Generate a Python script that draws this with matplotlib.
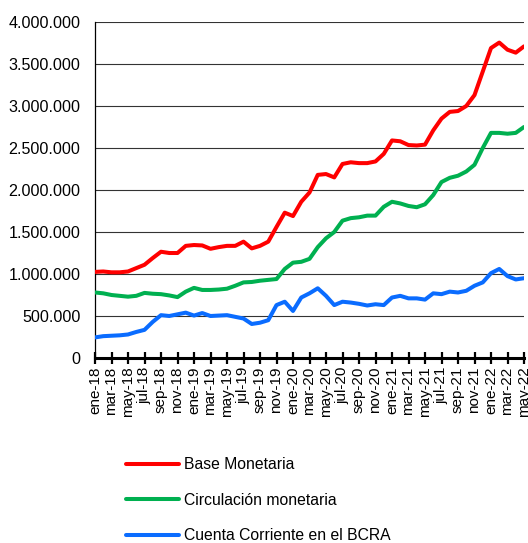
import matplotlib
matplotlib.use("Agg")
import matplotlib.pyplot as plt
from matplotlib.ticker import FuncFormatter, FixedLocator

plt.rcParams['font.family'] = ['Liberation Sans', 'DejaVu Sans']

# Monthly series, ene-18 .. may-22 (millions of pesos -> scaled below)
months = ["ene", "feb", "mar", "abr", "may", "jun", "jul", "ago", "sep", "oct", "nov", "dic"]
years = ["18", "19", "20", "21", "22"]
periods = [f"{m}-{y}" for y in years for m in months][:53]

base_monetaria = [1.025, 1.03, 1.02, 1.02, 1.03, 1.07, 1.11, 1.19, 1.265, 1.25,
                  1.25, 1.335, 1.345, 1.34, 1.30, 1.32, 1.335, 1.335, 1.385, 1.305,
                  1.335, 1.385, 1.56, 1.73, 1.69, 1.86, 1.97, 2.18, 2.19, 2.15,
                  2.31, 2.33, 2.32, 2.32, 2.34, 2.43, 2.59, 2.58, 2.535, 2.53,
                  2.54, 2.71, 2.85, 2.93, 2.94, 3.00, 3.13, 3.41, 3.69, 3.755,
                  3.67, 3.635, 3.71]

circulacion = [0.78, 0.77, 0.75, 0.74, 0.73, 0.74, 0.775, 0.765, 0.76, 0.745,
               0.725, 0.79, 0.835, 0.81, 0.81, 0.815, 0.825, 0.86, 0.90, 0.905,
               0.92, 0.93, 0.94, 1.06, 1.135, 1.145, 1.18, 1.32, 1.425, 1.50,
               1.635, 1.665, 1.675, 1.695, 1.695, 1.80, 1.86, 1.84, 1.81, 1.795,
               1.83, 1.94, 2.095, 2.145, 2.17, 2.22, 2.30, 2.50, 2.68, 2.68,
               2.67, 2.68, 2.75]

cuenta_corriente = [0.245, 0.26, 0.265, 0.27, 0.28, 0.31, 0.335, 0.43, 0.51, 0.50,
                    0.52, 0.54, 0.505, 0.535, 0.50, 0.505, 0.51, 0.49, 0.47, 0.405,
                    0.42, 0.45, 0.63, 0.67, 0.56, 0.72, 0.77, 0.83, 0.74, 0.63,
                    0.67, 0.66, 0.645, 0.625, 0.64, 0.63, 0.72, 0.74, 0.71, 0.71,
                    0.695, 0.77, 0.76, 0.79, 0.78, 0.80, 0.86, 0.90, 1.01, 1.06,
                    0.975, 0.935, 0.95]

series = [
    ("Base Monetaria", base_monetaria, "#FF0000"),
    ("Circulación monetaria", circulacion, "#00B050"),
    ("Cuenta Corriente en el BCRA", cuenta_corriente, "#0A6CFF"),
]

fig = plt.figure(figsize=(5.28, 5.43), dpi=100)
ax = fig.add_axes([95 / 528, 1 - 358 / 543, (524 - 95) / 528, (358 - 22) / 543])

x = list(range(len(periods)))
handles = []
for name, vals, color in series:
    h, = ax.plot(x, [v * 1_000_000 for v in vals], color=color, lw=2.9,
                 solid_joinstyle="round", solid_capstyle="round", label=name,
                 zorder=3)
    handles.append(h)

ax.set_xlim(0, len(periods) - 1)
ax.set_ylim(0, 4_000_000)
ax.yaxis.set_major_locator(FixedLocator([i * 500_000 for i in range(9)]))
ax.yaxis.set_major_formatter(FuncFormatter(lambda v, p: f"{int(v):,}".replace(",", ".")))
ax.grid(axis="y", color="#333333", lw=0.8, zorder=1)

ax.set_xticks(x[::2])
ax.set_xticklabels(periods[::2], rotation=90, fontsize=11)
ax.tick_params(axis="y", length=0, labelsize=11.6, pad=10.5)
ax.tick_params(axis="x", direction="inout", length=8, width=1.6, pad=2)

for s in ("top", "right"):
    ax.spines[s].set_visible(False)
ax.spines["bottom"].set_linewidth(2.2)
ax.spines["left"].set_linewidth(0.9)

fig.legend(handles=handles, loc="upper left", bbox_to_anchor=(126 / 528, 1 - 457 / 543),
           frameon=False, fontsize=11.3, handlelength=3.4, handletextpad=0.3,
           labelspacing=1.32, borderpad=0, borderaxespad=0)

fig.savefig("out.png", dpi=100)
